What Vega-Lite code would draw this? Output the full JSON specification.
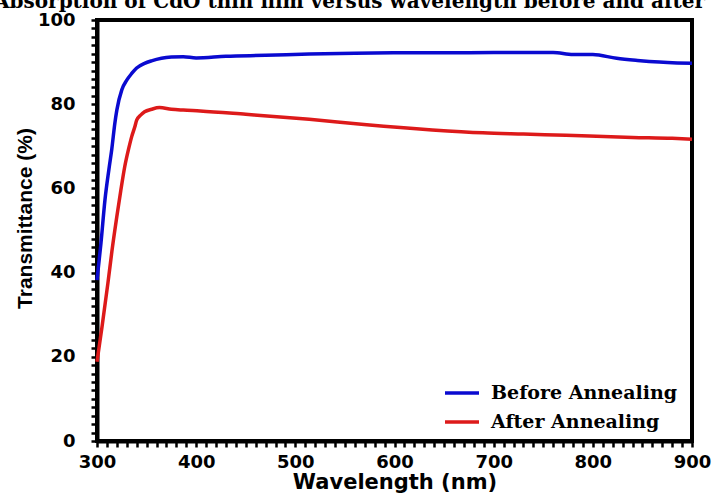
{
  "$schema": "https://vega.github.io/schema/vega-lite/v6.json",
  "width": 595,
  "height": 421,
  "autosize": {"type": "none"},
  "padding": {"left": 97, "top": 20, "right": 25, "bottom": 58},
  "background": "white",
  "title": {
    "text": "Absorption of CdO thin film versus wavelength before and after",
    "font": "DejaVu Serif",
    "fontWeight": "bold",
    "fontSize": 20,
    "color": "black",
    "anchor": "start",
    "frame": "group",
    "dx": -103,
    "baseline": "alphabetic",
    "offset": -17
  },
  "data": {
    "values": [
      {"wl": 300, "T": 38.2, "s": "Before Annealing"},
      {"wl": 304, "T": 47.0, "s": "Before Annealing"},
      {"wl": 308, "T": 57.2, "s": "Before Annealing"},
      {"wl": 312, "T": 64.5, "s": "Before Annealing"},
      {"wl": 315, "T": 69.5, "s": "Before Annealing"},
      {"wl": 318, "T": 75.5, "s": "Before Annealing"},
      {"wl": 320, "T": 78.6, "s": "Before Annealing"},
      {"wl": 325, "T": 83.4, "s": "Before Annealing"},
      {"wl": 330, "T": 85.7, "s": "Before Annealing"},
      {"wl": 335, "T": 87.3, "s": "Before Annealing"},
      {"wl": 340, "T": 88.6, "s": "Before Annealing"},
      {"wl": 348, "T": 89.7, "s": "Before Annealing"},
      {"wl": 355, "T": 90.3, "s": "Before Annealing"},
      {"wl": 365, "T": 90.9, "s": "Before Annealing"},
      {"wl": 375, "T": 91.2, "s": "Before Annealing"},
      {"wl": 387, "T": 91.3, "s": "Before Annealing"},
      {"wl": 400, "T": 91.0, "s": "Before Annealing"},
      {"wl": 430, "T": 91.4, "s": "Before Annealing"},
      {"wl": 470, "T": 91.6, "s": "Before Annealing"},
      {"wl": 514, "T": 91.9, "s": "Before Annealing"},
      {"wl": 560, "T": 92.1, "s": "Before Annealing"},
      {"wl": 606, "T": 92.2, "s": "Before Annealing"},
      {"wl": 650, "T": 92.2, "s": "Before Annealing"},
      {"wl": 700, "T": 92.3, "s": "Before Annealing"},
      {"wl": 760, "T": 92.3, "s": "Before Annealing"},
      {"wl": 780, "T": 91.8, "s": "Before Annealing"},
      {"wl": 800, "T": 91.8, "s": "Before Annealing"},
      {"wl": 824, "T": 90.9, "s": "Before Annealing"},
      {"wl": 845, "T": 90.4, "s": "Before Annealing"},
      {"wl": 867, "T": 90.0, "s": "Before Annealing"},
      {"wl": 885, "T": 89.8, "s": "Before Annealing"},
      {"wl": 900, "T": 89.7, "s": "Before Annealing"},
      {"wl": 300, "T": 18.8, "s": "After Annealing"},
      {"wl": 305, "T": 27.0, "s": "After Annealing"},
      {"wl": 311, "T": 37.5, "s": "After Annealing"},
      {"wl": 315, "T": 45.0, "s": "After Annealing"},
      {"wl": 320, "T": 53.3, "s": "After Annealing"},
      {"wl": 324, "T": 59.5, "s": "After Annealing"},
      {"wl": 328, "T": 65.2, "s": "After Annealing"},
      {"wl": 332, "T": 69.5, "s": "After Annealing"},
      {"wl": 335, "T": 72.3, "s": "After Annealing"},
      {"wl": 338, "T": 74.5, "s": "After Annealing"},
      {"wl": 340, "T": 76.2, "s": "After Annealing"},
      {"wl": 344, "T": 77.4, "s": "After Annealing"},
      {"wl": 348, "T": 78.2, "s": "After Annealing"},
      {"wl": 355, "T": 78.8, "s": "After Annealing"},
      {"wl": 363, "T": 79.2, "s": "After Annealing"},
      {"wl": 375, "T": 78.8, "s": "After Annealing"},
      {"wl": 387, "T": 78.6, "s": "After Annealing"},
      {"wl": 404, "T": 78.4, "s": "After Annealing"},
      {"wl": 450, "T": 77.6, "s": "After Annealing"},
      {"wl": 514, "T": 76.4, "s": "After Annealing"},
      {"wl": 572, "T": 75.1, "s": "After Annealing"},
      {"wl": 638, "T": 73.9, "s": "After Annealing"},
      {"wl": 689, "T": 73.2, "s": "After Annealing"},
      {"wl": 730, "T": 72.9, "s": "After Annealing"},
      {"wl": 773, "T": 72.6, "s": "After Annealing"},
      {"wl": 840, "T": 72.1, "s": "After Annealing"},
      {"wl": 880, "T": 71.9, "s": "After Annealing"},
      {"wl": 900, "T": 71.7, "s": "After Annealing"}
    ]
  },
  "mark": {"type": "line", "strokeWidth": 3.5, "interpolate": "monotone"},
  "encoding": {
    "x": {
      "field": "wl",
      "type": "quantitative",
      "scale": {"domain": [300, 900], "nice": false},
      "axis": {
        "title": "Wavelength (nm)",
        "values": [300,310,320,330,340,350,360,370,380,390,400,410,420,430,440,450,460,470,480,490,500,510,520,530,540,550,560,570,580,590,600,610,620,630,640,650,660,670,680,690,700,710,720,730,740,750,760,770,780,790,800,810,820,830,840,850,860,870,880,890,900],
        "labelExpr": "datum.value % 100 === 0 ? datum.label : ''",
        "labelFlush": false,
        "grid": false,
        "tickSize": 6,
        "tickWidth": 2.5,
        "tickColor": "black",
        "labelPadding": 6,
        "labelFont": "DejaVu Sans",
        "labelFontWeight": "bold",
        "labelFontSize": 18,
        "labelColor": "black",
        "labelOverlap": false,
        "titleFont": "DejaVu Sans",
        "titleFontWeight": "bold",
        "titleFontSize": 21,
        "titleColor": "black",
        "titlePadding": 0,
        "domainColor": "black",
        "domainWidth": 4
      }
    },
    "y": {
      "field": "T",
      "type": "quantitative",
      "scale": {"domain": [0, 100], "nice": false},
      "axis": {
        "title": "Transmittance (%)",
        "values": [0,2,4,6,8,10,12,14,16,18,20,22,24,26,28,30,32,34,36,38,40,42,44,46,48,50,52,54,56,58,60,62,64,66,68,70,72,74,76,78,80,82,84,86,88,90,92,94,96,98,100],
        "labelExpr": "datum.value % 20 === 0 ? datum.label : ''",
        "labelFlush": false,
        "grid": false,
        "tickSize": 6,
        "tickWidth": 2.5,
        "tickColor": "black",
        "labelPadding": 16,
        "labelFont": "DejaVu Sans",
        "labelFontWeight": "bold",
        "labelFontSize": 18,
        "labelColor": "black",
        "labelOverlap": false,
        "titleFont": "Liberation Sans",
        "titleFontWeight": "bold",
        "titleFontSize": 21,
        "titleColor": "black",
        "titlePadding": 2,
        "titleY": 198,
        "domainColor": "black",
        "domainWidth": 4
      }
    },
    "color": {
      "field": "s",
      "type": "nominal",
      "scale": {"domain": ["Before Annealing", "After Annealing"], "range": ["#0a0ad0", "#dd1a1a"]},
      "legend": {
        "title": null,
        "orient": "none",
        "legendX": 346,
        "legendY": 354,
        "symbolType": "stroke",
        "symbolSize": 1156,
        "symbolStrokeWidth": 3.5,
        "labelFont": "DejaVu Serif",
        "labelFontWeight": "bold",
        "labelFontSize": 19,
        "labelColor": "black",
        "labelOffset": 10,
        "rowPadding": -3,
        "padding": 0,
        "labelLimit": 400
      }
    }
  },
  "config": {
    "view": {"stroke": "black", "strokeWidth": 4}
  }
}
